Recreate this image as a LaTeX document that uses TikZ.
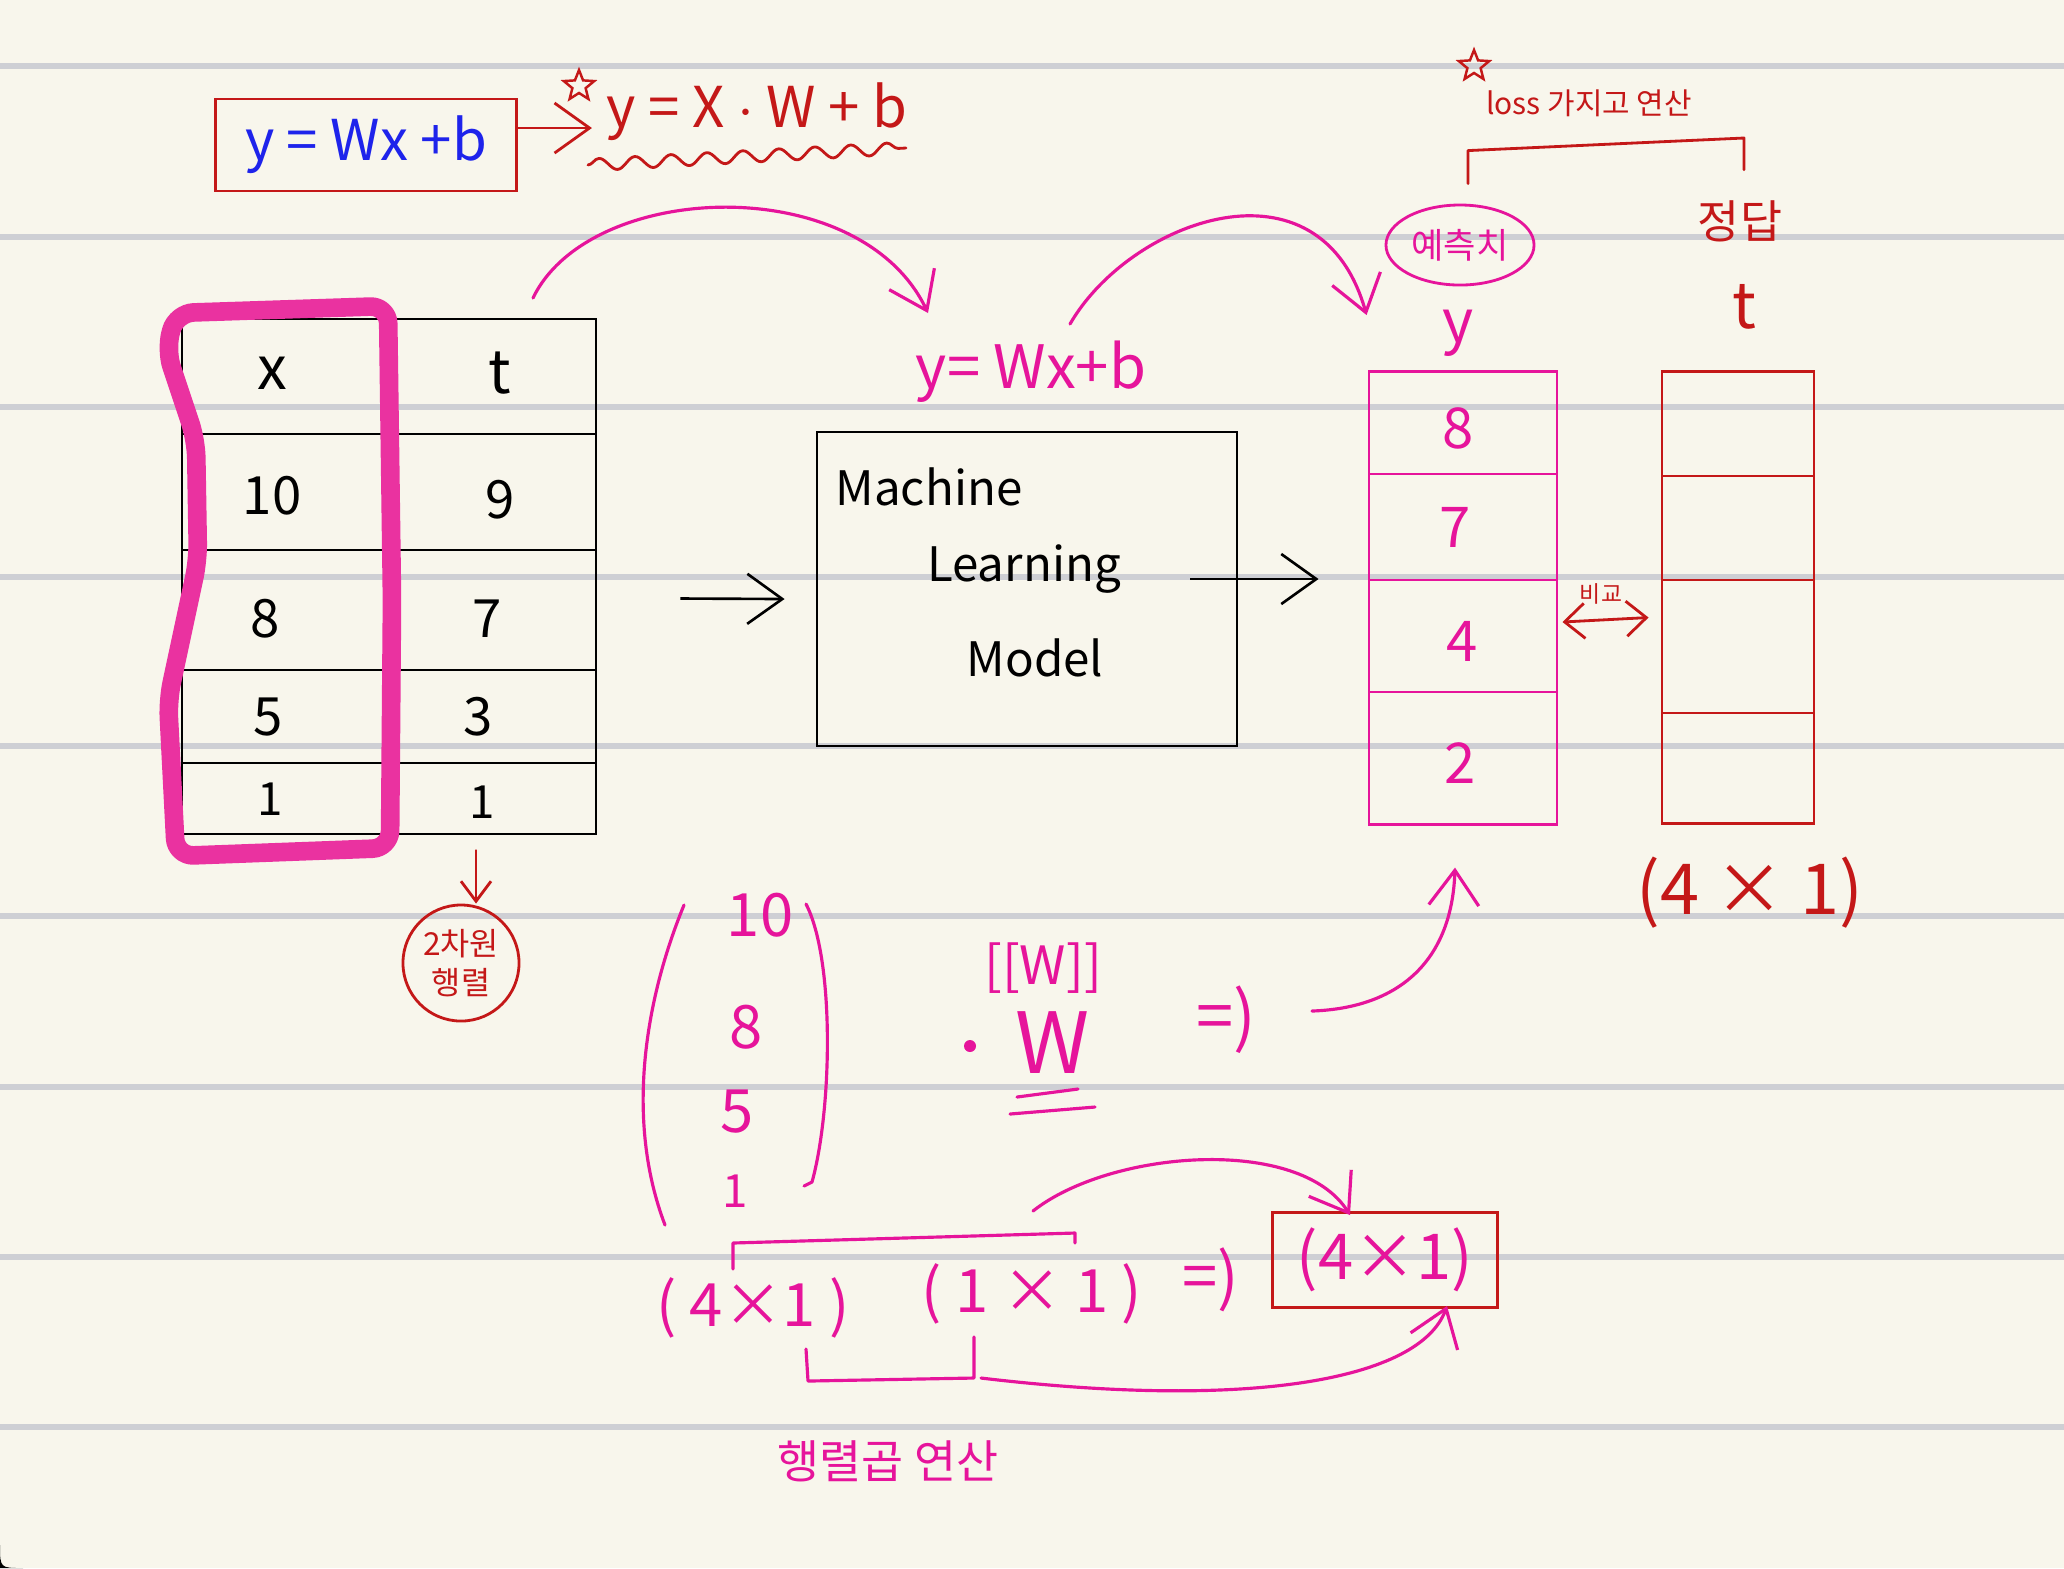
\documentclass[tikz,border=0pt]{standalone}
\usepackage{fontspec}
\setmainfont{Noto Sans CJK KR}
\usetikzlibrary{arrows.meta,shapes.geometric,decorations.pathmorphing,calc}
\definecolor{paper}{RGB}{248,246,236}
\definecolor{rulec}{RGB}{206,207,212}
\definecolor{pk}{RGB}{230,20,155}
\definecolor{hl}{RGB}{234,50,160}
\definecolor{rd}{RGB}{196,24,24}
\definecolor{bl}{RGB}{30,35,235}
\begin{document}
\begin{tikzpicture}[x=0.01cm,y=-0.01cm,
  fs/.style={font=\fontsize{#1}{#1}\selectfont},
  txt/.style={inner sep=0pt},
  pkline/.style={draw=pk,line width=0.9pt,line cap=round,line join=round},
  rdline/.style={draw=rd,line width=0.8pt,line cap=round,line join=round},
  bkline/.style={draw=black,line width=0.75pt},
  barb/.style={-{Straight Barb[length=3.5mm,width=5mm]}},
  sbarb/.style={-{Straight Barb[length=2mm,width=3mm]}},
  starmark/.style={star,star points=5,star point ratio=2.3,draw=rd,line width=0.7pt,minimum size=0.32cm,inner sep=0pt}
]
\useasboundingbox (0,0) rectangle (2064,1568);
\fill[paper] (0,0) rectangle (2064,1568);
\fill[black] (0,1545) .. controls (0,1568) .. (23,1568) -- (0,1568) -- cycle;
\foreach \yy in {66,237,407,577,746,916,1087,1257,1427}
  \draw[rulec,line width=1.5pt] (0,\yy) -- (2064,\yy);

% ---------- top formulas ----------
\node[draw=rd,line width=0.8pt,minimum width=3.01cm,minimum height=0.92cm,inner sep=0pt,
      text=bl,fs=16pt] (eq1) at (366,145) {y = Wx +b};
\node[txt,text=rd,fs=16pt] (eq2) at (757,112) {y = X $\cdot$ W + b};
\node[starmark] (st1) at (579,86) {};
\draw[rdline,barb] ($(eq1.east)+(0,-17)$) -- ($(eq2.west)+(-14,16)$);
\coordinate (wv1) at (588,165);
\coordinate (wv2) at (906,148);
\draw[rdline,decorate,decoration={snake,amplitude=0.6mm,segment length=3.6mm}] (wv1) -- (wv2);

% ---------- data table ----------
\node[bkline,draw,minimum width=4.14cm,minimum height=5.15cm,inner sep=0pt] (tbl) at (389,576.5) {};
\draw[bkline] (395,319) -- (395,834);
\foreach \r in {434,550,670,763} \draw[bkline] (182,\r) -- (596,\r);
\node[txt,fs=17pt] (hx) at (272,373) {x};
\node[txt,fs=17pt] (ht) at (500,373) {t};
\node[txt,fs=15pt] (x1) at (272,496) {10};
\node[txt,fs=15pt] (t1) at (500,500) {9};
\node[txt,fs=15pt] (x2) at (265,619) {8};
\node[txt,fs=15pt] (t2) at (487,619) {7};
\node[txt,fs=15pt] (x3) at (268,717) {5};
\node[txt,fs=15pt] (t3) at (478,717) {3};
\node[txt,fs=13pt] (x4) at (270,799) {1};
\node[txt,fs=13pt] (t4) at (482,802) {1};
\draw[hl,line width=5.3pt,rounded corners=5pt,line join=round]
  (176,313) -- (388,306) -- (392,600) -- (390,848) -- (176,856) -- (168,700)
  -- (198,560) -- (196,440) -- (166,350) -- cycle;

% 2차원 행렬
\node[circle,draw=rd,line width=0.8pt,minimum size=1.16cm,inner sep=0pt,text=rd,fs=9pt,align=center]
  (dim) at (461,963) {2차원\\[2pt]행렬};
\draw[rdline,sbarb] ($(tbl.south)+(87,15)$) -- (dim.north -| 476,0);

% ---------- model ----------
\node[txt,text=pk,fs=17pt] (mlab) at (1031,372) {y= Wx+b};
\coordinate (c1s) at (533,298);
\coordinate (c1e) at (928,313);
\draw[pkline,barb] (c1s) .. controls (590,180) and (860,170) .. (c1e);
\node[bkline,draw,minimum width=4.2cm,minimum height=3.14cm,inner sep=0pt] (ml) at (1027,589) {};
\node[txt,fs=13.5pt] (mt1) at (929,487) {Machine};
\node[txt,fs=13.5pt] (mt2) at (1024,569) {Learning};
\node[txt,fs=13.5pt] (mt3) at (1035,658) {Model};
\draw[bkline,barb] ($(tbl.east)+(83,22)$) -- ($(ml.west)+(-31,10)$);

% ---------- prediction column ----------
\node[draw=pk,line width=0.8pt,minimum width=1.88cm,minimum height=4.52cm,inner sep=0pt] (pred) at (1463,598) {};
\foreach \r in {474,580,692} \draw[pk,line width=0.8pt] (1369,\r) -- (1557,\r);
\node[txt,text=pk,fs=16pt] (p1) at (1458,428) {8};
\node[txt,text=pk,fs=16pt] (p2) at (1455,527) {7};
\node[txt,text=pk,fs=16pt] (p3) at (1462,641) {4};
\node[txt,text=pk,fs=16pt] (p4) at (1460,763) {2};
\draw[bkline,barb] ($(ml.east)+(-48,-10)$) -- ($(pred.west)+(-49,-19)$);

\node[ellipse,draw=pk,line width=0.8pt,minimum width=1.48cm,minimum height=0.8cm,inner sep=0pt,
      text=pk,fs=10pt] (pe) at (1460,245) {예측치};
\node[txt,text=pk,fs=17pt] (py) at (1458,333) {y};
\coordinate (c2s) at (1070,324);
\draw[pkline,barb] (c2s) .. controls (1130,220) and (1320,150) .. ($(pe.west)+(-18,70)$);

% ---------- target column ----------
\node[draw=rd,line width=0.8pt,minimum width=1.52cm,minimum height=4.51cm,inner sep=0pt] (tgt) at (1738,597.5) {};
\foreach \r in {476,580,713} \draw[rd,line width=0.8pt] (1662,\r) -- (1814,\r);
\node[txt,text=rd,fs=13pt] (ans) at (1740,221) {정답};
\node[txt,text=rd,fs=18pt] (tt) at (1744,307) {t};
\node[txt,text=rd,fs=20pt] (shp) at (1750,893) {(4 × 1)};

% compare
\draw[rdline,{Straight Barb[length=2mm,width=3.5mm]}-{Straight Barb[length=2mm,width=3.5mm]}]
  ($(pred.east)+(4,24)$) -- ($(tgt.west)+(-12,20)$);
\node[txt,text=rd,fs=6.5pt] (cmp) at (1601,594) {비교};

% loss bracket
\draw[rdline] ($(pe.north)+(8,-20)$) -- ++(0,-33) -- (1744,138) -- ($(ans.north)+(4,-30)$);
\node[starmark] (st2) at (1474,66) {};
\node[txt,text=rd,fs=8.5pt] (loss) at (1589,103) {loss 가지고 연산};

% ---------- matrix product ----------
\draw[pkline] (684,905) .. controls (645,1000) and (625,1120) .. (665,1225);
\draw[pkline] (806,904) .. controls (835,960) and (832,1110) .. (812,1182) -- (804,1186);
\node[txt,text=pk,fs=17pt] (m1) at (760,915) {10};
\node[txt,text=pk,fs=17pt] (m2) at (746,1027) {8};
\node[txt,text=pk,fs=17pt] (m3) at (737,1112) {5};
\node[txt,text=pk,fs=13pt] (m4) at (735,1191) {1};

\node[txt,text=pk,fs=15pt] (wbr) at (1043,968) {[[W]]};
\fill[pk] (970,1046) circle (6);
\node[txt,text=pk,fs=24pt] (wbig) at (1053,1043) {W};
\draw[pkline] (1017,1097) -- (1078,1089);
\draw[pkline] (1010,1114) -- (1095,1107);
\node[txt,text=pk,fs=19pt] (imp1) at (1226,1020) {=)};
\coordinate (c3s) at (1312,1011);
\draw[pkline,barb] (c3s) .. controls (1400,1008) and (1452,960) .. ($(pred.south)+(-8,42)$);

\node[txt,text=pk,fs=17pt] (d1) at (753,1308) {( 4×1 )};
\node[txt,text=pk,fs=17pt] (d2) at (1032,1294) {( 1 × 1 )};
\node[txt,text=pk,fs=18pt] (imp2) at (1211,1280) {=)};
\node[draw=rd,line width=0.8pt,minimum width=2.25cm,minimum height=0.95cm,inner sep=0pt,
      text=pk,fs=18pt] (res) at (1385,1260) {(4×1)};

\draw[pkline] ($(d1.north)+(-20,-8)$) -- ++(0,-26) -- (1075,1233) -- ($(d2.north)+(43,-20)$);
\draw[pkline] ($(d1.south)+(53,10)$) -- ++(2,32) -- (974,1378) -- ($(d2.south)+(-58,12)$);
\coordinate (c4s) at (981,1378);
\draw[pkline,barb] (c4s) .. controls (1250,1410) and (1420,1380) .. ($(res.south)+(62,-3)$);
\coordinate (c5s) at (1033,1211);
\draw[pkline,barb] (c5s) .. controls (1110,1150) and (1300,1135) .. ($(res.north)+(-35,4)$);
\node[txt,text=pk,fs=13pt] (mul) at (888,1461) {행렬곱 연산};
\end{tikzpicture}
\end{document}
